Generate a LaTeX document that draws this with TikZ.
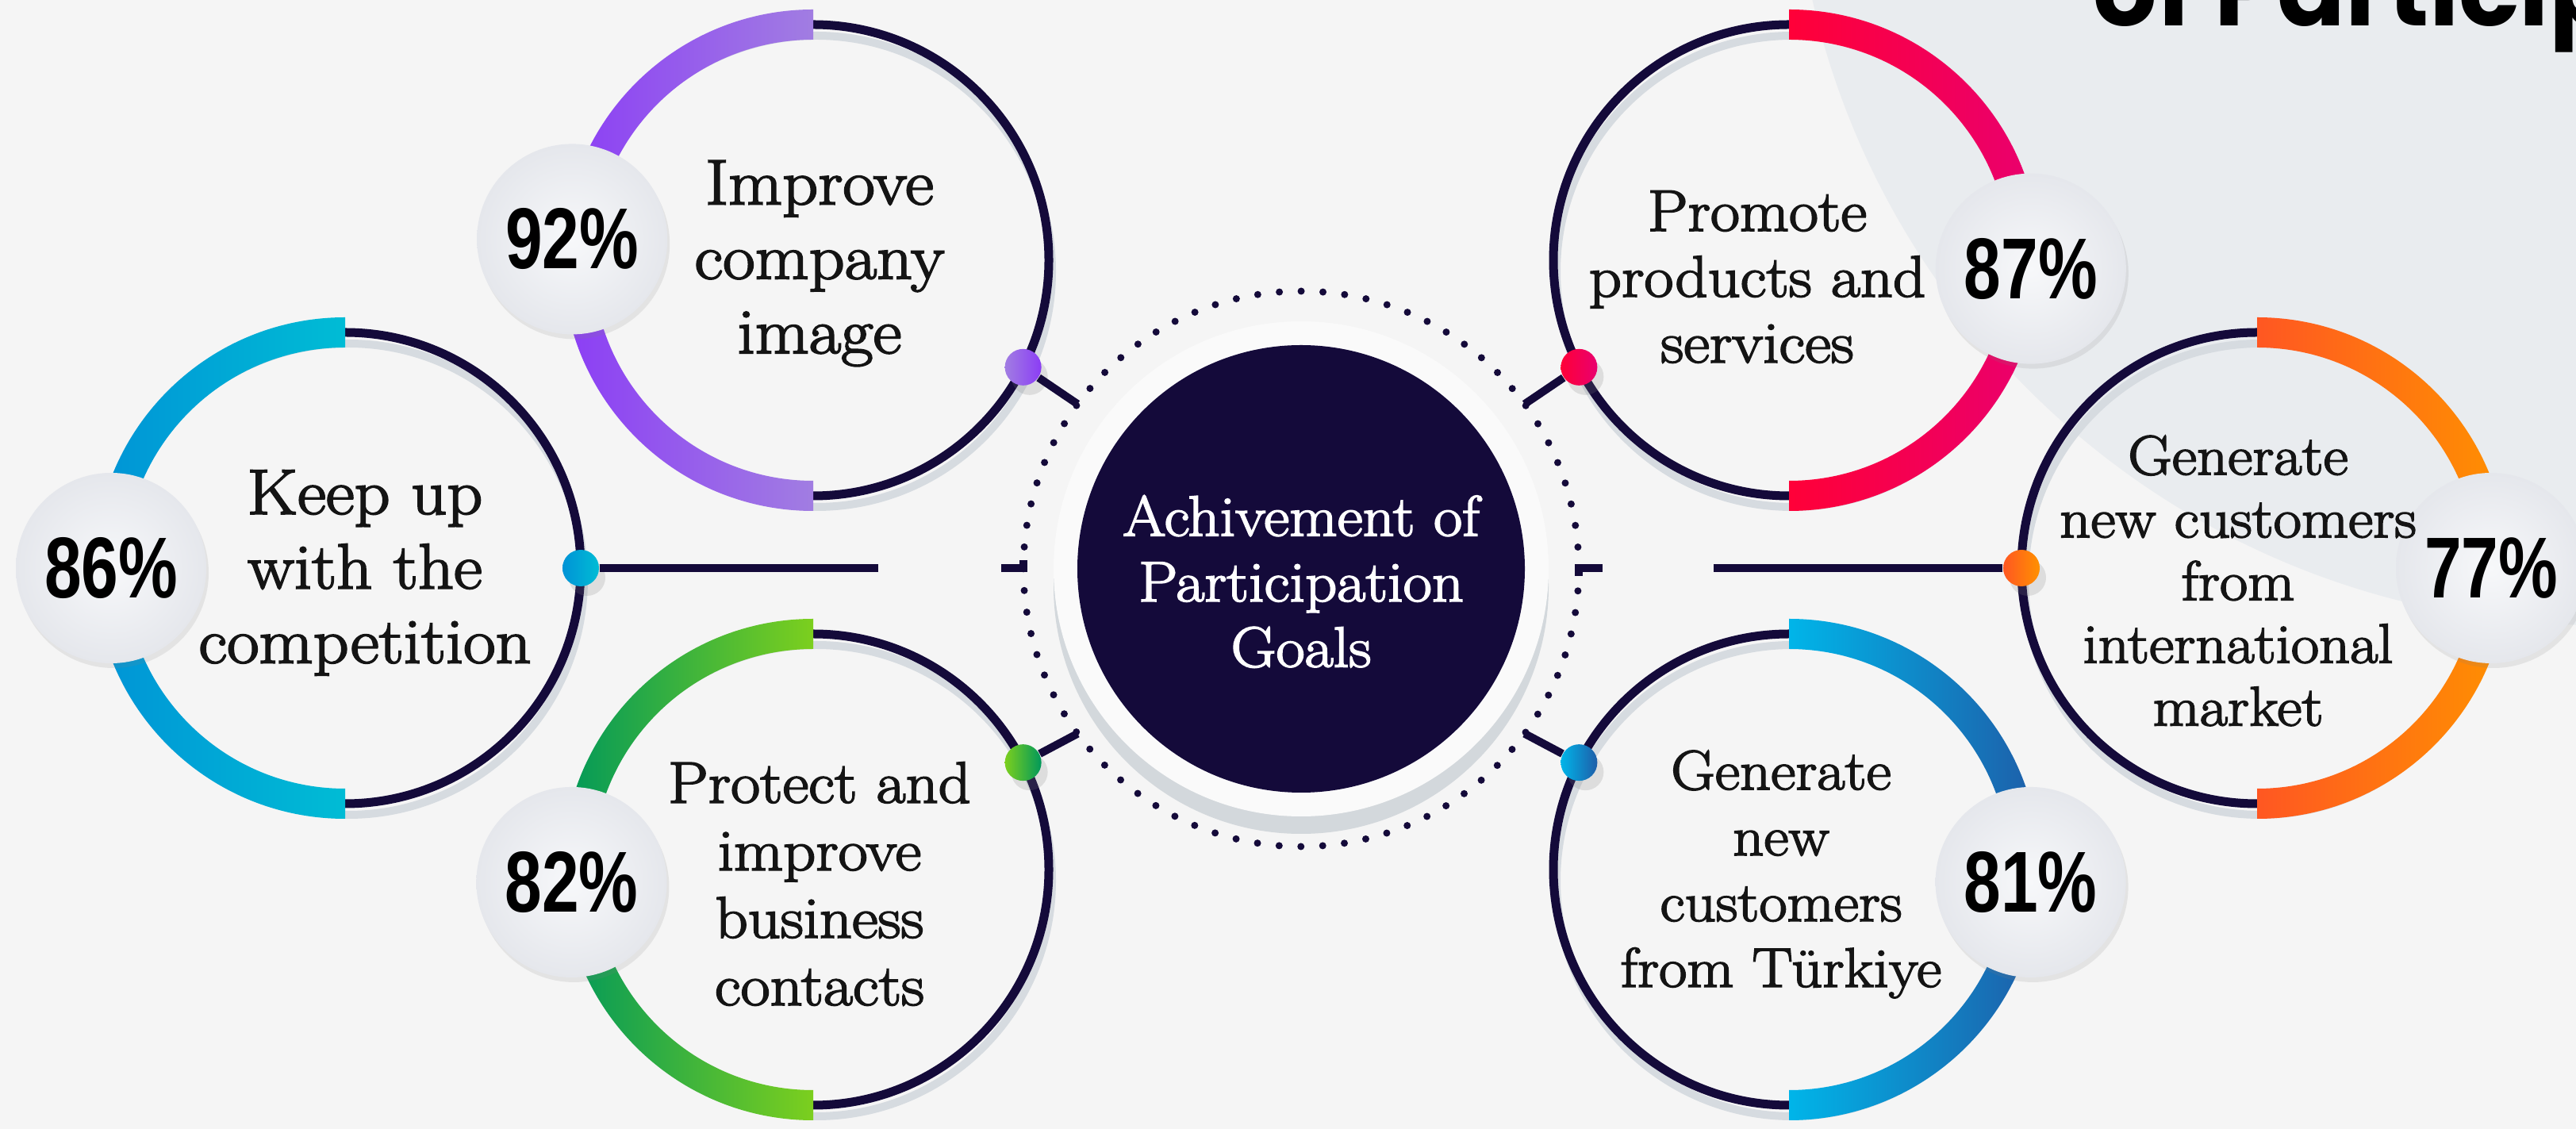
\documentclass[tikz,border=0pt]{standalone}
\usepackage{fontspec}
\newfontfamily\pctfont{Liberation Sans}
\newfontfamily\titlefont{Poppins}
\newfontfamily\goalfont{Latin Modern Roman}[FakeBold=2.5,FakeStretch=1.09]
\usetikzlibrary{calc,shadows}

\definecolor{bgc}{HTML}{F5F5F5}
\definecolor{blobc}{HTML}{E9ECEF}
\definecolor{navy}{HTML}{140A3A}
\definecolor{ringshadow}{HTML}{D6DBE0}
\definecolor{plategray}{HTML}{D3D8DC}
\definecolor{purpleA}{HTML}{8B3DF5}
\definecolor{purpleB}{HTML}{A17DE2}
\definecolor{cyanA}{HTML}{0093D6}
\definecolor{cyanB}{HTML}{00BCD5}
\definecolor{greenA}{HTML}{00985A}
\definecolor{greenB}{HTML}{7CCF1E}
\definecolor{redA}{HTML}{E9006F}
\definecolor{redB}{HTML}{FF0038}
\definecolor{orangeA}{HTML}{FF9100}
\definecolor{orangeB}{HTML}{FF5722}
\definecolor{blueA}{HTML}{1E5DA8}
\definecolor{blueB}{HTML}{00B5E9}
\definecolor{bubblein}{HTML}{F7F8FA}
\definecolor{bubbleout}{HTML}{E5E7EC}

\begin{document}
\begin{tikzpicture}
\tikzstyle{ring}=[circle,draw=navy,line width=0.11cm,minimum size=5.94cm,inner sep=0pt];
\tikzstyle{txt}=[align=center,text=black!92,inner sep=0pt];
\tikzstyle{pct}=[circle,minimum size=2.4cm,inner sep=0pt,inner color=bubblein,outer color=bubbleout,
  font=\pctfont\bfseries\fontsize{31}{31}\selectfont,
  drop shadow={shadow xshift=0.03cm,shadow yshift=-0.06cm,opacity=0.15}];
\tikzstyle{dot}=[circle,minimum size=0.46cm,inner sep=0pt,
  drop shadow={shadow xshift=0.08cm,shadow yshift=-0.12cm,opacity=0.2}];
\tikzstyle{link}=[navy,line width=0.1cm];
\tikzstyle{hub}=[circle,fill=navy,minimum size=5.64cm,inner sep=0pt];

\useasboundingbox (0,0) rectangle (32.47,14.23);
\fill[bgc] (0,0) rectangle (32.47,14.23);
\fill[blobc] (32.74,16.50) circle (10.15);
\node[anchor=base west,inner sep=0pt,font=\titlefont\bfseries\fontsize{36}{36}\selectfont] (ttl) at (26.38,13.90) {of Particip};

% centres
\coordinate (c0) at (16.40,7.06);
\coordinate (c1) at (10.25,10.95);
\coordinate (c2) at (4.35,7.07);
\coordinate (c3) at (10.25,3.27);
\coordinate (c4) at (22.55,10.95);
\coordinate (c5) at (28.45,7.07);
\coordinate (c6) at (22.55,3.27);

% ring shadows
\draw[ringshadow,line width=0.1cm] ($(c1)+(0.04,-0.14)$) circle (2.97);
\draw[ringshadow,line width=0.1cm] ($(c2)+(0.04,-0.14)$) circle (2.97);
\draw[ringshadow,line width=0.1cm] ($(c3)+(0.04,-0.14)$) circle (2.97);
\draw[ringshadow,line width=0.1cm] ($(c4)+(0.04,-0.14)$) circle (2.97);
\draw[ringshadow,line width=0.1cm] ($(c5)+(0.04,-0.14)$) circle (2.97);
\draw[ringshadow,line width=0.1cm] ($(c6)+(0.04,-0.14)$) circle (2.97);

% hub
\fill[plategray] ($(c0)+(0,-0.22)$) circle (3.12);
\fill[bgc!50!white] (c0) circle (3.12);
\draw[navy,line width=0.09cm,line cap=round,dash pattern=on 0pt off 0.27489cm] (c0) circle (3.5);
\node[hub] (hub) at (c0) {};
\node[txt,text=white,font=\goalfont\fontsize{20.5}{23.5}\selectfont] (l0) at ($(c0)+(0,-0.16)$) {Achivement of\\Participation\\Goals};

% rings
\node[ring] (r1) at (c1) {};
\node[ring] (r2) at (c2) {};
\node[ring] (r3) at (c3) {};
\node[ring] (r4) at (c4) {};
\node[ring] (r5) at (c5) {};
\node[ring] (r6) at (c6) {};

\shade[left color=purpleA,right color=purpleB] ($(r1.center)+(0,3.16)$) arc[start angle=90,end angle=270,radius=3.16] -- ++(0,0.38) arc[start angle=270,end angle=90,radius=2.78] -- cycle;
\shade[left color=cyanA,right color=cyanB] ($(r2.center)+(0,3.16)$) arc[start angle=90,end angle=270,radius=3.16] -- ++(0,0.38) arc[start angle=270,end angle=90,radius=2.78] -- cycle;
\shade[left color=greenA,right color=greenB] ($(r3.center)+(0,3.16)$) arc[start angle=90,end angle=270,radius=3.16] -- ++(0,0.38) arc[start angle=270,end angle=90,radius=2.78] -- cycle;
\shade[left color=redB,right color=redA] ($(r4.center)+(0,3.16)$) arc[start angle=90,end angle=-90,radius=3.16] -- ++(0,0.38) arc[start angle=-90,end angle=90,radius=2.78] -- cycle;
\shade[left color=orangeB,right color=orangeA] ($(r5.center)+(0,3.16)$) arc[start angle=90,end angle=-90,radius=3.16] -- ++(0,0.38) arc[start angle=-90,end angle=90,radius=2.78] -- cycle;
\shade[left color=blueB,right color=blueA] ($(r6.center)+(0,3.16)$) arc[start angle=90,end angle=-90,radius=3.16] -- ++(0,0.38) arc[start angle=-90,end angle=90,radius=2.78] -- cycle;

% percentages
\node[pct] (p1) at ($(c1)+(175:3.05)$) {\scalebox{0.77}[1]{92\%}};
\node[pct] (p2) at ($(c2)+(180:2.95)$) {\scalebox{0.77}[1]{86\%}};
\node[pct] (p3) at ($(c3)+(183:3.05)$) {\scalebox{0.77}[1]{82\%}};
\node[pct] (p4) at ($(c4)+(-2:3.05)$) {\scalebox{0.77}[1]{87\%}};
\node[pct] (p5) at ($(c5)+(0:2.95)$) {\scalebox{0.77}[1]{77\%}};
\node[pct] (p6) at ($(c6)+(-3:3.05)$) {\scalebox{0.77}[1]{81\%}};

% texts
\node[txt,font=\goalfont\fontsize{23}{26.7}\selectfont] (l1) at ($(c1)+(0.08,-0.04)$) {Improve\\company\\image};
\node[txt,font=\goalfont\fontsize{23}{26.7}\selectfont] (l2) at ($(c2)+(0.25,-0.06)$) {Keep up\\with the\\competition};
\node[txt,font=\goalfont\fontsize{21}{24.2}\selectfont] (l3) at ($(c3)+(0.08,-0.18)$) {Protect and\\improve\\business\\contacts};
\node[txt,font=\goalfont\fontsize{21}{23.6}\selectfont] (l4) at ($(c4)+(-0.40,-0.21)$) {Promote\\products and\\services};
\node[txt,font=\goalfont\fontsize{20}{22.5}\selectfont] (l5) at ($(c5)+(-0.24,-0.16)$) {Generate\\new customers\\from\\international\\market};
\node[txt,font=\goalfont\fontsize{20}{23.6}\selectfont] (l6) at ($(c6)+(-0.10,-0.06)$) {Generate\\new\\customers\\from Türkiye};

% dots on the rings
\node[dot,left color=purpleB,right color=purpleA] (d1) at ($(c1)+(-27:2.97)$) {};
\node[dot,left color=cyanA,right color=cyanB] (d2) at ($(c2)+(0:2.97)$) {};
\node[dot,left color=greenB,right color=greenA] (d3) at ($(c3)+(27:2.97)$) {};
\node[dot,left color=redB,right color=redA] (d4) at ($(c4)+(207:2.97)$) {};
\node[dot,left color=orangeB,right color=orangeA] (d5) at ($(c5)+(180:2.97)$) {};
\node[dot,left color=blueB,right color=blueA] (d6) at ($(c6)+(153:2.97)$) {};

% connectors
\coordinate (t1) at ($(c0)+(143.6:3.5)$);
\coordinate (t3) at ($(c0)+(216.4:3.5)$);
\coordinate (t4) at ($(c0)+(36.4:3.5)$);
\coordinate (t6) at ($(c0)+(-36.4:3.5)$);
\coordinate (t2) at (12.90,7.07);
\coordinate (t5) at (19.90,7.07);
\coordinate (s2) at ($(t2)+(-0.28,0)$);
\coordinate (k2) at ($(t2)+(0,0.1)$);
\coordinate (s5) at ($(t5)+(0.30,0)$);
\coordinate (k5) at ($(t5)+(0,-0.1)$);
\coordinate (g2) at (11.07,7.07);
\coordinate (g5) at (21.60,7.07);
\draw[link] (d1) -- (t1);
\draw[link] (d3) -- (t3);
\draw[link] (d4) -- (t4);
\draw[link] (d6) -- (t6);
\draw[link] (d2) -- (g2);
\draw[link] (d5) -- (g5);
\draw[link] (k2) -- (t2) -- (s2);
\draw[link] (k5) -- (t5) -- (s5);
\end{tikzpicture}
\end{document}
